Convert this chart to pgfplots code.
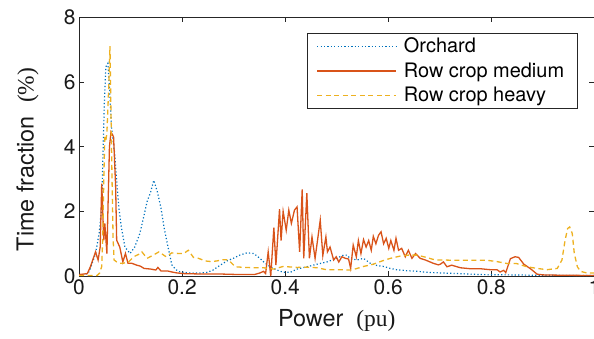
\documentclass[border=0pt]{standalone}
\usepackage{pgfplots}
\pgfplotsset{compat=1.18}
\usepackage{fontspec}
\setmainfont{TeX Gyre Heros}
\newfontfamily\unitfont{Liberation Serif}
\definecolor{mblue}{rgb}{0,0.447,0.741}
\definecolor{morange}{rgb}{0.85,0.325,0.098}
\definecolor{myellow}{rgb}{0.929,0.694,0.125}
\begin{document}
\begin{tikzpicture}
\begin{axis}[
  scale only axis, width=515bp, height=259bp,
  xmin=0, xmax=1, ymin=0, ymax=8,
  xtick={0,0.2,0.4,0.6,0.8,1}, xticklabels={0,0.2,0.4,0.6,0.8,1},
  ytick={0,2,4,6,8},
  /pgf/number format/assume math mode=true,
  tick align=inside, major tick length=5bp,
  tick style={black!85, line width=0.5bp},
  axis line style={black!85, line width=0.5bp},
  ticklabel style={font=\fontsize{21}{24}\selectfont, black!90},
  xlabel={Power\ \ {\unitfont (pu)}},
  ylabel={Time fraction\ \ {\unitfont (\%)}},
  label style={font=\fontsize{23.5}{26}\selectfont, black!90},
  xlabel style={at={(axis description cs:0.5,-0.17)}, anchor=center},
  ylabel style={at={(axis description cs:-0.1,0.45)}, anchor=center, rotate=0},
  legend style={at={(rel axis cs:1,1)}, anchor=north east, xshift=-17bp, yshift=-15.7bp,
    draw=black!85, line width=0.5bp, font=\fontsize{20}{22}\selectfont,
    nodes={inner xsep=4bp, inner ysep=2.5bp}, inner xsep=9bp, inner ysep=2.5bp, row sep=3.5bp,
    /tikz/every odd column/.append style={column sep=3bp}},
  legend cell align=left,
  legend image code/.code={\draw[#1] (0bp,0bp) -- (79bp,0bp);},
]
\addplot[mblue, line width=1.2bp, dash pattern=on 1.2bp off 2.2bp] coordinates {
(0,0.03)(0.01,0.04)(0.018,0.1)(0.022,0.24)(0.032,0.7)(0.039,1.32)(0.044,2.14)(0.046,3.49)(0.049,5.33)(0.052,6.46)(0.056,6.57)(0.059,5.84)(0.063,4.6)(0.069,3.8)(0.072,3.18)(0.077,2.14)(0.082,1.52)(0.089,0.9)(0.099,0.7)(0.108,0.9)(0.118,1.32)(0.125,1.8)(0.132,2.3)(0.139,2.6)(0.145,2.96)(0.152,2.6)(0.159,2.1)(0.165,1.5)(0.172,0.95)(0.180,0.35)(0.188,0.2)(0.196,0.13)(0.215,0.1)(0.235,0.1)(0.249,0.12)(0.260,0.19)(0.274,0.34)(0.287,0.47)(0.299,0.55)(0.312,0.65)(0.326,0.72)(0.339,0.7)(0.351,0.55)(0.361,0.4)(0.371,0.29)(0.384,0.19)(0.396,0.12)(0.410,0.12)(0.423,0.22)(0.442,0.29)(0.462,0.37)(0.481,0.44)(0.500,0.55)(0.513,0.65)(0.520,0.65)(0.526,0.55)(0.539,0.5)(0.552,0.55)(0.565,0.4)(0.578,0.33)(0.591,0.3)(0.604,0.24)(0.616,0.2)(0.636,0.17)(0.656,0.15)(0.675,0.12)(0.701,0.1)(0.736,0.08)(0.779,0.05)(0.834,0.04)(0.883,0.03)(1.0,0.02)
};
\addlegendentry{Orchard}
\addplot[morange, line width=1.3bp] coordinates {
(0,0.05)(0.016,0.08)(0.022,0.29)(0.032,0.75)(0.037,0.5)(0.041,0.9)(0.044,2.86)(0.048,1.11)(0.050,1.63)(0.054,0.7)(0.059,4.0)(0.062,4.45)(0.067,4.3)(0.071,2.76)(0.073,1.11)(0.079,0.9)(0.085,0.44)(0.090,0.7)(0.095,0.4)(0.102,0.4)(0.112,0.34)(0.119,0.31)(0.126,0.24)(0.139,0.22)(0.149,0.19)(0.153,0.27)(0.159,0.16)(0.172,0.16)(0.180,0.13)(0.190,0.1)(0.203,0.08)(0.229,0.07)(0.267,0.07)(0.312,0.05)(0.340,0.05)(0.351,0.1)(0.358,0.15)(0.362,0.08)(0.367,0.75)(0.372,0.0)(0.378,1.5)(0.382,0.34)(0.389,2.07)(0.392,1.1)(0.396,2.0)(0.402,1.42)(0.407,2.04)(0.412,1.63)(0.418,2.04)(0.423,2.14)(0.428,0.75)(0.433,2.68)(0.436,0.55)(0.442,2.56)(0.447,0.55)(0.452,1.21)(0.458,0.55)(0.468,1.73)(0.473,0.64)(0.479,1.21)(0.482,0.75)(0.487,0.9)(0.494,0.5)(0.499,0.6)(0.504,0.44)(0.510,0.6)(0.517,0.55)(0.523,0.53)(0.527,0.24)(0.532,0.96)(0.538,0.6)(0.542,1.1)(0.547,0.7)(0.552,1.13)(0.557,0.9)(0.562,1.1)(0.567,0.8)(0.571,1.23)(0.576,1.0)(0.581,1.26)(0.586,1.37)(0.591,1.0)(0.596,1.17)(0.601,0.86)(0.605,1.1)(0.611,0.8)(0.615,1.17)(0.620,0.8)(0.626,0.86)(0.633,0.6)(0.639,0.8)(0.646,0.55)(0.653,0.7)(0.662,0.55)(0.672,0.5)(0.687,0.4)(0.697,0.35)(0.701,0.37)(0.707,0.44)(0.714,0.29)(0.723,0.34)(0.740,0.26)(0.759,0.23)(0.779,0.23)(0.798,0.2)(0.811,0.2)(0.817,0.13)(0.824,0.18)(0.828,0.11)(0.837,0.54)(0.846,0.6)(0.853,0.58)(0.863,0.37)(0.876,0.23)(0.889,0.06)(0.901,0.04)(0.932,0.03)(1.0,0.02)
};
\addlegendentry{Row crop medium}
\addplot[myellow, line width=1.3bp, dash pattern=on 5bp off 3.5bp] coordinates {
(0,0.02)(0.035,0.02)(0.040,0.1)(0.044,0.3)(0.046,1.2)(0.048,3.0)(0.050,4.3)(0.052,4.2)(0.054,4.4)(0.056,5.2)(0.058,6.0)(0.060,7.1)(0.062,5.0)(0.064,3.0)(0.066,1.2)(0.068,0.5)(0.073,0.44)(0.079,0.4)(0.086,0.4)(0.096,0.44)(0.106,0.6)(0.119,0.7)(0.122,0.75)(0.132,0.55)(0.144,0.65)(0.155,0.75)(0.169,0.6)(0.180,0.72)(0.193,0.7)(0.203,0.7)(0.212,0.8)(0.222,0.58)(0.232,0.55)(0.245,0.47)(0.257,0.45)(0.267,0.47)(0.280,0.51)(0.290,0.5)(0.303,0.29)(0.322,0.27)(0.340,0.26)(0.358,0.26)(0.378,0.22)(0.396,0.3)(0.423,0.27)(0.442,0.28)(0.462,0.26)(0.480,0.2)(0.500,0.2)(0.529,0.19)(0.552,0.3)(0.571,0.37)(0.588,0.47)(0.604,0.55)(0.623,0.62)(0.639,0.65)(0.656,0.65)(0.674,0.58)(0.691,0.5)(0.707,0.5)(0.727,0.49)(0.746,0.49)(0.765,0.49)(0.792,0.49)(0.811,0.45)(0.831,0.39)(0.849,0.39)(0.869,0.29)(0.889,0.24)(0.908,0.2)(0.928,0.24)(0.937,0.5)(0.943,1.1)(0.948,1.47)(0.952,1.52)(0.957,1.32)(0.961,0.7)(0.967,0.29)(0.973,0.15)(0.985,0.1)(1.0,0.1)
};
\addlegendentry{Row crop heavy}
\end{axis}
\pgfresetboundingbox
\path[use as bounding box] ([shift={(-79bp,-62bp)}]current axis.south west) rectangle ([shift={(514.6bp,276bp)}]current axis.south west);
\end{tikzpicture}
\end{document}
